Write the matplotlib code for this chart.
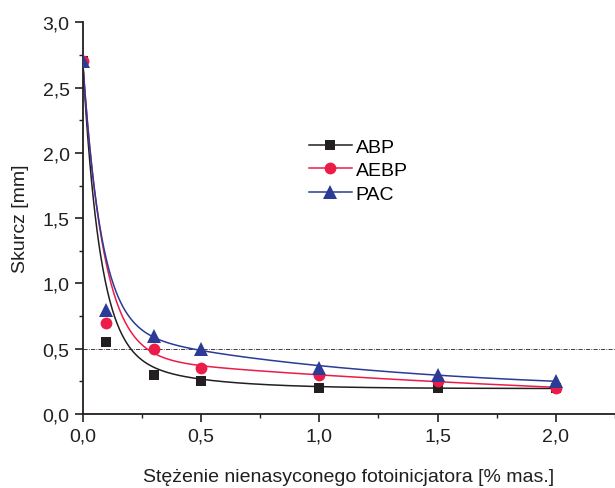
import numpy as np
import matplotlib
matplotlib.use('Agg')
from matplotlib import pyplot as plt
from matplotlib.ticker import MultipleLocator, FuncFormatter

# zmierzone punkty
x_pts = [0.0, 0.1, 0.3, 0.5, 1.0, 1.5, 2.0]
abp = [2.7, 0.55, 0.30, 0.25, 0.20, 0.20, 0.20]
aebp = [2.7, 0.70, 0.50, 0.35, 0.30, 0.25, 0.20]
pac = [2.7, 0.80, 0.60, 0.50, 0.35, 0.30, 0.25]

# parametry dopasowania ExpDec2: y0, A1, t1, A2, t2
fit_abp = [0.195, 2.18, 0.072, 0.326, 0.325]
fit_aebp = [0.0, 2.261, 0.088, 0.439, 2.62]
fit_pac = [0.165, 2.041, 0.078, 0.494, 1.14]

labels = ['ABP', 'AEBP', 'PAC']
colors = ['#231f20', '#ec1c48', '#2b3b96']
markers = ['s', 'o', '^']
msizes = [7.5, 8.5, 10]

def expdec2(x, p):
    y0, a1, t1, a2, t2 = p
    return y0 + a1*np.exp(-x/t1) + a2*np.exp(-x/t2)

plt.rcParams['font.family'] = ['Liberation Sans', 'DejaVu Sans']
plt.rcParams['font.size'] = 14

fig = plt.figure(figsize=(6.15, 4.89), dpi=100)
ax = fig.add_axes([0.1345, 0.1513, 0.8655, 0.801])

xx = np.linspace(0, 2.0, 800)
for ys, p, c, m, ms, lab in zip([abp, aebp, pac], [fit_abp, fit_aebp, fit_pac],
                                colors, markers, msizes, labels):
    ax.plot(xx, expdec2(xx, p), color=c, lw=1.1, zorder=2)
    ax.plot(x_pts, ys, linestyle='none', marker=m, ms=ms, color=c,
            markeredgewidth=0, zorder=3)
    ax.plot([], [], color=c, lw=1.1, marker=m, ms=ms, markeredgewidth=0, label=lab)

ax.axhline(0.5, color='#231f20', lw=0.6, linestyle=(0, (5, 1.5, 1, 1.5)), zorder=1)

ax.set_xlim(0, 2.25)
ax.set_ylim(0, 3.0)
ax.xaxis.set_major_locator(MultipleLocator(0.5))
ax.xaxis.set_minor_locator(MultipleLocator(0.25))
ax.yaxis.set_major_locator(MultipleLocator(0.5))
ax.yaxis.set_minor_locator(MultipleLocator(0.25))
fmt = FuncFormatter(lambda v, pos: ('%.1f' % v).replace('.', ','))
ax.xaxis.set_major_formatter(fmt)
ax.yaxis.set_major_formatter(fmt)

for s in ['top', 'right']:
    ax.spines[s].set_visible(False)
for s in ['left', 'bottom']:
    ax.spines[s].set_linewidth(1.3)
    ax.spines[s].set_color('#231f20')
ax.tick_params(which='major', length=5.5, width=1.2, color='#231f20', pad=4,
               labelcolor='#231f20')
ax.tick_params(which='minor', length=3, width=1.0, color='#231f20')

ax.set_xlabel('Stężenie nienasyconego fotoinicjatora [% mas.]', color='#231f20')
ax.set_ylabel('Skurcz [mm]', color='#231f20')
ax.xaxis.set_label_coords(0.5, -0.138)
ax.yaxis.set_label_coords(-0.101, 0.5)

fig.legend(loc='upper left', bbox_to_anchor=(309/615, 1-139/489),
           frameon=False, borderpad=0, borderaxespad=0, handlelength=2.2,
           handletextpad=0.2, labelspacing=0.3, numpoints=1)

fig.savefig('out.png', dpi=100)
